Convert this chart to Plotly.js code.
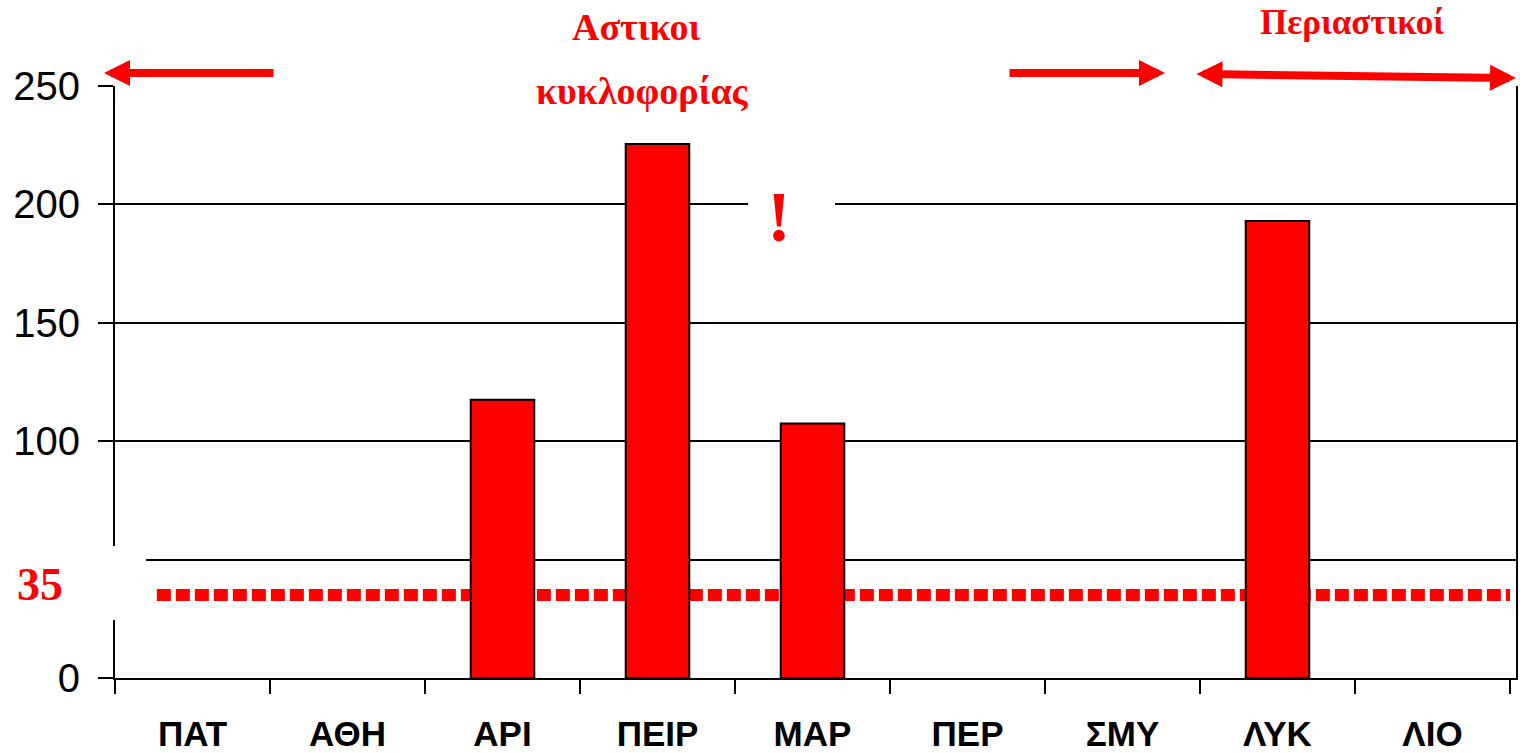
<!DOCTYPE html>
<html>
<head>
<meta charset="utf-8">
<script src="https://cdn.plot.ly/plotly-3.0.1.min.js"></script>
<style>html,body{margin:0;padding:0;background:#fff;}#chart{width:1520px;height:753px;}</style>
</head>
<body>
<div id="chart"></div>
<script>
// ---- data ----
const categories = ['ΠΑΤ', 'ΑΘΗ', 'ΑΡΙ', 'ΠΕΙΡ', 'ΜΑΡ', 'ΠΕΡ', 'ΣΜΥ', 'ΛΥΚ', 'ΛΙΟ'];
const values = [0, 0, 117.5, 225.5, 107.5, 0, 0, 193, 0];
const yTickVals = [0, 50, 100, 150, 200, 250];
const yTickText = ['0', '', '100', '150', '200', '250'];
const threshold = 35;
const thresholdLabel = '35';
const groupLabel1 = ['Αστικοι', 'κυκλοφορίας'];
const groupLabel2 = 'Περιαστικοί';
const alertMark = '!';

// ---- layout helpers (pixel -> paper) ----
const L = 115, R = 1516, T = 86, B = 678;
const px = x => (x - L) / (R - L);
const py = y => (B - y) / (B - T);
const RED = '#ff0000';
const serif = 'Liberation Serif, Times New Roman, serif';

const trace = {
  type: 'bar',
  x: categories,
  y: values,
  width: 0.41,
  marker: {color: RED, line: {color: '#000', width: values.map(v => v > 0 ? 2 : 0)}},
  hoverinfo: 'x+y'
};

function txt(text, x, y, size) {
  return {text: text, xref: 'paper', yref: 'paper', x: px(x), y: py(y),
    xanchor: 'center', yanchor: 'middle', showarrow: false,
    font: {family: serif, size: size, color: RED, weight: 'bold'}};
}
function arrow(x0, y0, x1, y1, side) {
  return {text: '', xref: 'paper', yref: 'paper', axref: 'paper', ayref: 'paper',
    x: px(x1), y: py(y1), ax: px(x0), ay: py(y0), showarrow: true,
    arrowhead: 2, startarrowhead: 2, arrowsize: 0.65, startarrowsize: 0.65, arrowwidth: 8,
    arrowcolor: RED, arrowside: side || 'end', standoff: 0, startstandoff: 0};
}
function whiteRect(x0, y0, x1, y1) {
  return {type: 'rect', xref: 'paper', yref: 'paper', layer: 'above',
    x0: px(x0), x1: px(x1), y0: py(y0), y1: py(y1),
    fillcolor: '#fff', line: {width: 0}};
}

const layout = {
  width: 1520, height: 753,
  margin: {l: L, r: 1520 - R, t: T, b: 753 - B},
  paper_bgcolor: '#fff', plot_bgcolor: '#fff',
  showlegend: false,
  xaxis: {
    type: 'category', showline: true, linecolor: '#000', linewidth: 2,
    ticks: 'outside', tickson: 'boundaries', ticklen: 14, tickwidth: 2, tickcolor: '#000',
    showgrid: false, zeroline: false,
    tickfont: {family: 'Liberation Sans, Arial, sans-serif', size: 35, color: '#000', weight: 'bold'},
    ticklabelstandoff: 24
  },
  yaxis: {
    range: [0, 250], showline: true, linecolor: '#000', linewidth: 2, mirror: true,
    tickvals: yTickVals, ticktext: yTickText,
    ticks: 'outside', ticklen: 15, tickwidth: 2, tickcolor: '#000',
    showgrid: true, gridcolor: '#000', gridwidth: 2, zeroline: false,
    tickfont: {family: 'Liberation Sans, Arial, sans-serif', size: 40, color: '#000'},
    ticklabelstandoff: 10
  },
  shapes: [
    {type: 'line', xref: 'x', yref: 'y', layer: 'below', x0: -0.23, x1: 8.5,
     y0: threshold, y1: threshold, line: {color: RED, width: 12, dash: '14px,5px'}},
    whiteRect(275, 79, 1008, 93),
    whiteRect(748, 199, 835, 211),
    whiteRect(0, 546, 146, 620)
  ],
  annotations: [
    txt(groupLabel1[0], 636, 27, 38),
    txt(groupLabel1[1], 642, 91, 38),
    txt(groupLabel2, 1352, 22, 35),
    txt(alertMark, 779, 217, 72),
    txt(thresholdLabel, 40, 584, 46),
    arrow(275, 73, 104, 73),
    arrow(1008, 73, 1165, 73),
    arrow(1195, 74, 1516, 78, 'end+start')
  ]
};

Plotly.newPlot('chart', [trace], layout, {displayModeBar: false, staticPlot: true});
</script>
</body>
</html>
